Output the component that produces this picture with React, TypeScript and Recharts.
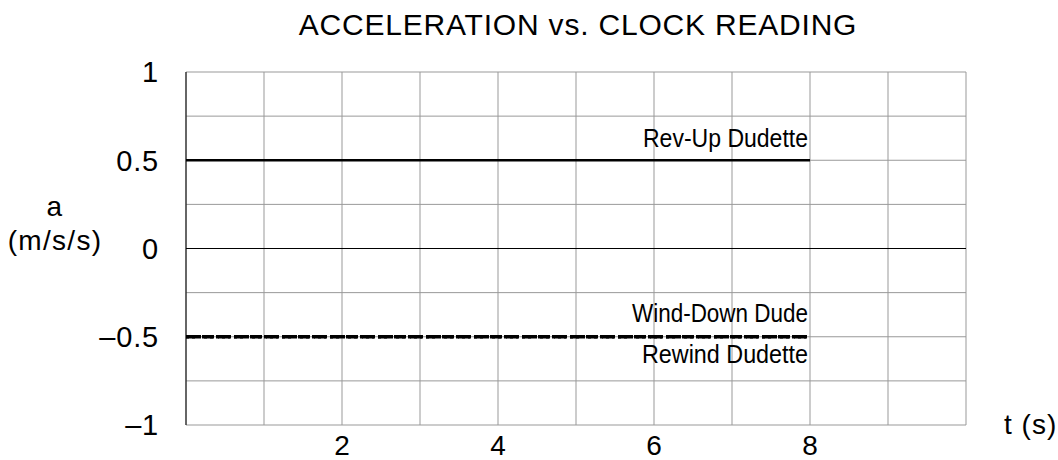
import { CartesianGrid, Line, LineChart, ReferenceLine, XAxis, YAxis } from "recharts";

const times = [0, 8];
const revUp = [0.5, 0.5];
const windDown = [-0.5, -0.5];
const rewind = [-0.5, -0.5];

const xTicks = [2, 4, 6, 8];
const yTicks = [-1, -0.5, 0, 0.5, 1];
const xGrid = [0, 1, 2, 3, 4, 5, 6, 7, 8, 9, 10];
const yGrid = [-1, -0.75, -0.5, -0.25, 0, 0.25, 0.5, 0.75, 1];

const data = times.map((t, i) => ({
  t,
  revUp: revUp[i],
  windDown: windDown[i],
  rewind: rewind[i],
}));

const mainFont = "'Liberation Sans', Arial, sans-serif";

// condensed-looking series labels, squeezed to the reference width
function endLabel(text: string, dy: number, len: number) {
  return (props: any) => {
    if (props.index !== data.length - 1) return null;
    return (
      <text
        x={props.x - 2}
        y={props.y + dy}
        textAnchor="end"
        fontFamily={mainFont}
        fontSize={25}
        textLength={len}
        lengthAdjust="spacingAndGlyphs"
        fill="#000"
      >
        {text}
      </text>
    );
  };
}

const fmt = (v: number) => (v < 0 ? "\u2013" + Math.abs(v) : String(v));

const tickStyle = { fontSize: 29, fill: "#000", fontFamily: mainFont, letterSpacing: 0.8 };

export default function App() {
  return (
    <div style={{ position: "absolute", left: 0, top: 0, width: 1058, height: 460, background: "#fff" }}>
      <div
        style={{
          position: "absolute",
          left: 0,
          width: 1156,
          top: 7,
          textAlign: "center",
          fontFamily: mainFont,
          fontSize: 30,
          letterSpacing: 0.8,
          lineHeight: "36px",
          whiteSpace: "nowrap",
        }}
      >
        ACCELERATION vs. CLOCK READING
      </div>
      <div
        style={{
          position: "absolute",
          left: 0,
          width: 110,
          top: 190,
          textAlign: "center",
          fontFamily: mainFont,
          fontSize: 28,
          letterSpacing: 1.3,
          lineHeight: "34px",
        }}
      >
        a
        <br />
        (m/s/s)
      </div>
      <div
        style={{
          position: "absolute",
          left: 1004,
          top: 408,
          fontFamily: mainFont,
          fontSize: 28,
          letterSpacing: 1,
          lineHeight: "34px",
          whiteSpace: "nowrap",
        }}
      >
        t (s)
      </div>
      <LineChart
        width={1058}
        height={460}
        data={data}
        margin={{ top: 72, right: 92, left: 0, bottom: 0 }}
        style={{ position: "absolute", left: 0, top: 0 }}
      >
        <CartesianGrid
          stroke="#999"
          strokeWidth={1}
          horizontalValues={yGrid}
          verticalValues={xGrid}
        />
        <XAxis
          dataKey="t"
          type="number"
          domain={[0, 10]}
          ticks={xTicks}
          height={35}
          axisLine={false}
          tickLine={false}
          tickSize={0}
          tickMargin={10}
          tick={{ fontSize: 28, fill: "#000", fontFamily: mainFont }}
        />
        <YAxis
          type="number"
          domain={[-1, 1]}
          ticks={yTicks}
          width={186}
          axisLine={{ stroke: "#000", strokeWidth: 1 }}
          tickLine={false}
          tickSize={0}
          tickMargin={27}
          tickFormatter={fmt}
          tick={tickStyle}
        />
        <ReferenceLine y={0} stroke="#000" strokeWidth={1} />
        <Line
          dataKey="revUp"
          stroke="#000"
          strokeWidth={2.5}
          dot={false}
          isAnimationActive={false}
          label={endLabel("Rev-Up Dudette", -13, 165)}
        />
        <Line
          dataKey="windDown"
          stroke="#000"
          strokeWidth={3.5}
          strokeDasharray="12 4"
          dot={false}
          isAnimationActive={false}
          label={endLabel("Wind-Down Dude", -15, 176)}
        />
        <Line
          dataKey="rewind"
          stroke="#000"
          strokeWidth={3.5}
          strokeDasharray="3 3"
          dot={false}
          isAnimationActive={false}
          label={endLabel("Rewind Dudette", 26, 166)}
        />
      </LineChart>
    </div>
  );
}
